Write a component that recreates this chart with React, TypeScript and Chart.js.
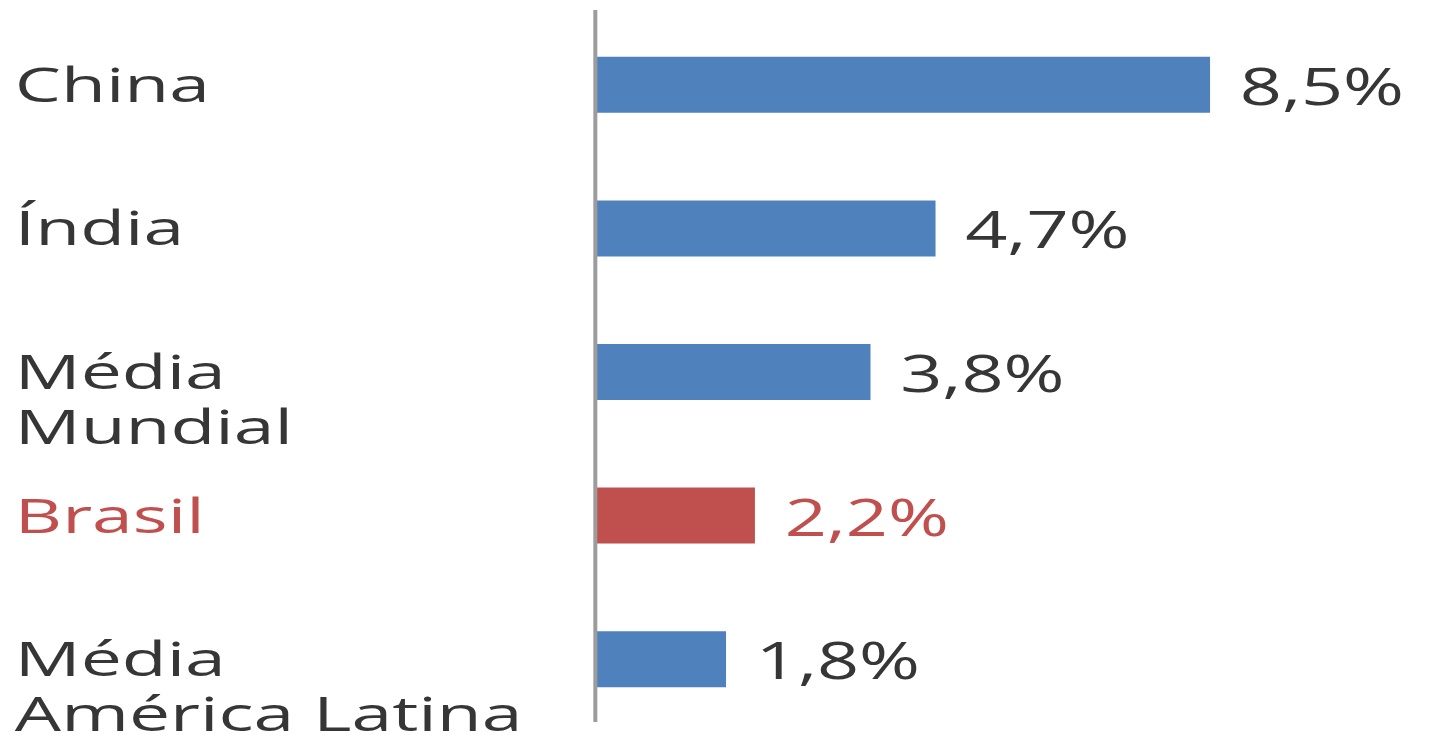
import React, { useEffect, useRef } from 'react';
import { Chart, registerables } from 'chart.js';

Chart.register(...registerables);

// ---- data ----
const categoryLines: string[][] = [
  ['China'],
  ['Índia'],
  ['Média', 'Mundial'],
  ['Brasil'],
  ['Média', 'América Latina'],
];
const categories: string[] = categoryLines.map((l) => l.join(' '));
const values: number[] = [8.5, 4.7, 3.8, 2.2, 1.8];
const barColors: string[] = ['#4F81BD', '#4F81BD', '#4F81BD', '#C0504D', '#4F81BD'];
const labelColors: string[] = ['#363636', '#363636', '#363636', '#C0504D', '#363636'];

// ---- layout / style ----
const W = 1434;
const H = 735;
const SX = 1.35; // horizontal stretch of the whole drawing
const CAT_SX = 1.13; // extra stretch of category labels
const VAL_SX = 1.05; // extra stretch of value labels
const AXIS_X = 596 / SX;
const UNIT = 72.24 / SX;
const X_MAX = 10;
const FONT = '"Open Sans", "Noto Sans", sans-serif';

const fmt = (v: number) => v.toFixed(1).replace('.', ',') + '%';

const drawPlugin = {
  id: 'stretchAndLabels',
  beforeDraw(chart: any) {
    chart.ctx.save();
    chart.ctx.scale(SX, 1);
  },
  afterDatasetsDraw(chart: any) {
    const { ctx, chartArea } = chart;
    const yScale = chart.scales.y;
    const meta = chart.getDatasetMeta(0);
    ctx.save();
    // axis line
    ctx.strokeStyle = '#9c9c9c';
    ctx.lineWidth = 4 / SX;
    ctx.beginPath();
    ctx.moveTo(chartArea.left - 0.5, chartArea.top - 3);
    ctx.lineTo(chartArea.left - 0.5, chartArea.bottom - 9);
    ctx.stroke();

    // category labels
    ctx.textAlign = 'left';
    ctx.textBaseline = 'alphabetic';
    ctx.font = `48px ${FONT}`;
    ctx.save();
    ctx.scale(CAT_SX, 1);
    categoryLines.forEach((lines, i) => {
      const y = yScale.getPixelForValue(i);
      ctx.fillStyle = labelColors[i];
      lines.forEach((line, j) => {
        ctx.fillText(line, 11 / CAT_SX, y + 17 + j * 55);
      });
    });
    ctx.restore();

    // value labels
    ctx.font = `52px ${FONT}`;
    ctx.save();
    ctx.scale(VAL_SX, 1);
    meta.data.forEach((bar: any, i: number) => {
      ctx.fillStyle = labelColors[i];
      ctx.fillText(fmt(values[i]), (bar.x + 22) / VAL_SX, bar.y + 20);
    });
    ctx.restore();
    ctx.restore();
  },
  afterDraw(chart: any) {
    chart.ctx.restore();
  },
};

export default function App() {
  const ref = useRef<HTMLCanvasElement | null>(null);

  useEffect(() => {
    if (!ref.current) return;
    const right = AXIS_X + UNIT * X_MAX;
    const chart = new Chart(ref.current, {
      type: 'bar',
      data: {
        labels: categories,
        datasets: [
          {
            data: values,
            backgroundColor: barColors,
            borderWidth: 0,
            categoryPercentage: 1,
            barPercentage: 0.39,
          },
        ],
      },
      options: {
        indexAxis: 'y',
        animation: false,
        responsive: true,
        maintainAspectRatio: false,
        layout: {
          padding: { left: AXIS_X, right: W - right, top: 13, bottom: 4 },
        },
        plugins: {
          legend: { display: false },
          tooltip: { enabled: false },
          title: { display: false },
        },
        scales: {
          x: { display: false, min: 0, max: X_MAX },
          y: { display: false },
        },
      },
      plugins: [drawPlugin],
    });
    return () => chart.destroy();
  }, []);

  return (
    <div
      style={{
        position: 'fixed',
        left: 0,
        top: 0,
        width: W,
        height: H,
        background: '#ffffff',
      }}
    >
      <canvas ref={ref} />
    </div>
  );
}
